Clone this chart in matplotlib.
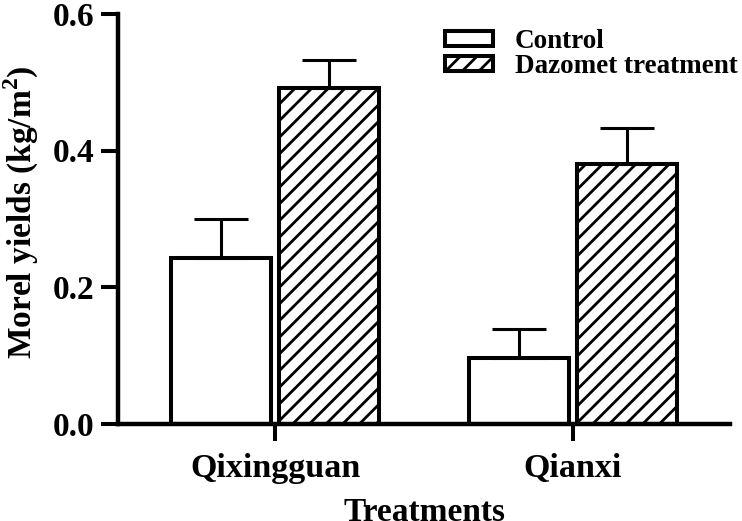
import numpy as np
import matplotlib
matplotlib.use('Agg')
import matplotlib.pyplot as plt

# values
sites = ['Qixingguan', 'Qianxi']
control_mean = [0.242, 0.096]
control_err = [0.057, 0.042]
dazomet_mean = [0.491, 0.380]
dazomet_err = [0.041, 0.053]
y_ticks = [0.0, 0.2, 0.4, 0.6]

plt.rcParams['font.family'] = ['Liberation Serif', 'DejaVu Serif']
plt.rcParams['font.weight'] = 'bold'
plt.rcParams['mathtext.fontset'] = 'custom'
plt.rcParams['mathtext.rm'] = 'Liberation Serif:bold'
plt.rcParams['mathtext.bf'] = 'Liberation Serif:bold'
plt.rcParams['hatch.linewidth'] = 2.0

fig = plt.figure(figsize=(7.42, 5.21), dpi=100)
ax = fig.add_axes([118 / 742, 97.5 / 521, 612 / 742, 409.5 / 521])

x = np.arange(len(sites))
width = 0.335
offset = 0.18

err_kw = dict(elinewidth=2.2, capsize=19.5, capthick=2.2, ecolor='black')
ax.bar(x - offset, control_mean, width, color='white', edgecolor='black',
       linewidth=2.9, label='Control', zorder=3,
       yerr=[np.zeros(len(sites)), control_err], error_kw=err_kw)
ax.bar(x + offset, dazomet_mean, width, color='white', edgecolor='black',
       linewidth=2.9, hatch='//', label='Dazomet treatment', zorder=3,
       yerr=[np.zeros(len(sites)), dazomet_err], error_kw=err_kw)

ax.set_xlim(-0.527, 1.527)
ax.set_ylim(0, 0.6)
ax.set_xticks(x)
ax.set_xticklabels(sites)
ax.set_yticks(y_ticks)
ax.set_yticklabels(['{:.1f}'.format(t) for t in y_ticks])

for side in ['top', 'right']:
    ax.spines[side].set_visible(False)
for side in ['left', 'bottom']:
    ax.spines[side].set_linewidth(3.2)
    ax.spines[side].set_zorder(4)

ax.tick_params(axis='y', length=12, width=2.9, pad=5, labelsize=24)
ax.tick_params(axis='x', length=12, width=2.9, pad=9, labelsize=24.5)

ax.set_xlabel('Treatments', fontsize=24, fontweight='bold')
ax.set_ylabel(r'Morel yields (kg/m$^{\mathbf{2}}$)', fontsize=24, fontweight='bold')
ax.xaxis.set_label_coords(0.5, -0.18)
ax.yaxis.set_label_coords(-0.126, 0.516)

ax.legend(loc='upper left', bbox_to_anchor=(445 / 742, 1 - 29 / 521),
          bbox_transform=fig.transFigure, frameon=False, fontsize=19.5,
          handlelength=1.78, handleheight=0.44, handletextpad=0.8,
          labelspacing=0.0, borderpad=0, borderaxespad=0)

fig.savefig('out.png', dpi=100)
